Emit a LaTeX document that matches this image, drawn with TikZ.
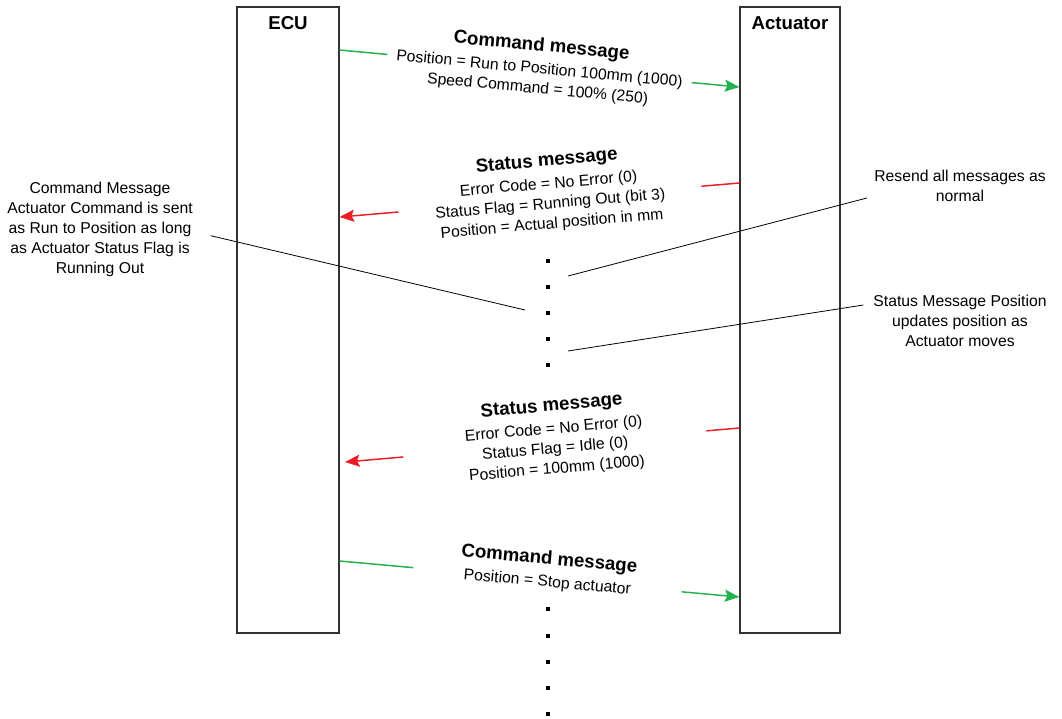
\documentclass[tikz,border=0pt]{standalone}
\usepackage{fontspec}
\setmainfont{Liberation Sans}
\usetikzlibrary{arrows.meta}

\definecolor{cmdgreen}{RGB}{34,177,76}
\definecolor{statred}{RGB}{237,28,36}
\newcommand{\msgtitle}[1]{{\fontsize{14}{17}\selectfont\bfseries #1}}

\begin{document}
\begin{tikzpicture}[x=0.75pt,y=-0.75pt,
    font=\fontsize{11.8}{15}\selectfont,
    cmd/.style={draw=cmdgreen, line width=1.1pt, -{Stealth[length=11pt,width=9pt,inset=2pt]}},
    stat/.style={draw=statred, line width=1.1pt, -{Stealth[length=11pt,width=9pt,inset=2pt]}},
    note/.style={draw=black, line width=0.6pt}]

      \useasboundingbox (0,0) rectangle (1062,718);

      \begin{scope}[every node/.style={draw=black!80, line width=0.8pt, minimum height=469.5pt}]
        \node[minimum width=76.5pt] (ecu) at (288,320) {};
        \node[minimum width=75pt]   (act) at (790,320) {};
      \end{scope}

      \node[font=\fontsize{14}{17}\selectfont\bfseries] (ecutitle) at (288,23) {ECU};
      \node[font=\fontsize{14}{17}\selectfont\bfseries] (acttitle) at (790,23) {Actuator};

      \coordinate (stip) at (345,462);
      \coordinate (cmdend) at (525,310);
      \coordinate (resendend) at (568,276);
      \coordinate (posend) at (568,351);

      \begin{scope}[every node/.style={sloped, fill=white, align=center, inner sep=2pt}]
        \draw[cmd]  (ecu.east |- 0,50) -- node[minimum width=229pt, yshift=1pt]
          {\msgtitle{Command message}\\[2pt] Position = Run to Position 100mm (1000)\\ Speed Command = 100\% (250)} (act.west |- 0,87);
        \draw[stat] (act.west |- 0,183) -- node[pos=0.474, minimum width=228pt, yshift=5pt]
          {\msgtitle{Status message}\\[2pt] Error Code = No Error (0)\\ Status Flag = Running Out (bit 3)\\ Position = Actual position in mm} (ecu.east |- 0,217);
        \draw[stat] (act.west |- 0,428) -- node[pos=0.468, minimum width=228pt, yshift=5pt]
          {\msgtitle{Status message}\\[2pt] Error Code = No Error (0)\\ Status Flag = Idle (0)\\ Position = 100mm (1000)} (stip);
        \draw[cmd]  (ecu.east |- 0,561) -- node[pos=0.52, minimum width=202pt, yshift=7pt]
          {\msgtitle{Command message}\\[2pt] Position = Stop actuator} (act.west |- 0,597);
      \end{scope}

      \node[align=center] (cmdnote) at (100,229) {Command Message\\ Actuator Command is sent\\ as Run to Position as long\\ as Actuator Status Flag is\\ Running Out};
      \node[align=center] (resend) at (960,186) {Resend all messages as\\ normal};
      \node[align=center] (posnote) at (960,321) {Status Message Position\\ updates position as\\ Actuator moves};

      \draw[note] ([xshift=10pt,yshift=-5pt]cmdnote.east) -- (cmdend);
      \draw[note] ([xshift=-2pt,yshift=-9pt]resend.west) -- (resendend);
      \draw[note] ([xshift=-4pt,yshift=12pt]posnote.west) -- (posend);

      \begin{scope}[every node/.style={fill=black, inner sep=0pt, minimum size=3pt}]
        \node (d1)  at (548,261) {};
        \node (d2)  at (548,287) {};
        \node (d3)  at (548,313) {};
        \node (d4)  at (548,339) {};
        \node (d5)  at (548,365) {};
        \node (d6)  at (548,609) {};
        \node (d7)  at (548,636) {};
        \node (d8)  at (548,662) {};
        \node (d9)  at (548,688) {};
        \node (d10) at (548,714) {};
      \end{scope}

    \end{tikzpicture}
\end{document}
